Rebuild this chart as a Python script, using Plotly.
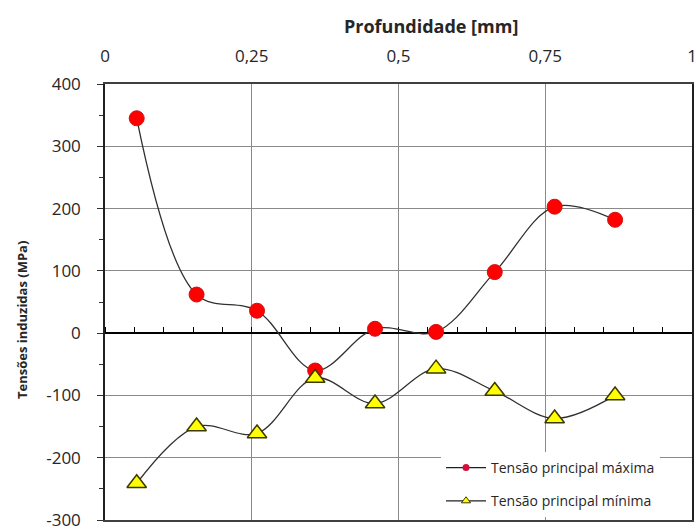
import plotly.graph_objects as go

# ---- data ----
depth_max = [0.054, 0.156, 0.259, 0.358, 0.460, 0.564, 0.664, 0.766, 0.869]
tensao_max = [345, 62, 36, -60, 7, 2, 98, 203, 182]

depth_min = [0.054, 0.156, 0.259, 0.358, 0.460, 0.564, 0.664, 0.766, 0.869]
tensao_min = [-241, -150, -161, -72, -113, -57, -93, -137, -100]

x_tickvals = [0, 0.25, 0.5, 0.75, 1]
x_ticktext = ["0", "0,25", "0,5", "0,75", "1"]
y_tickvals = [400, 300, 200, 100, 0, -100, -200, -300]
y_ticktext = ["400", "300", "200", "100", "0", "-100", "-200", "-300"]

name_max = "Tensão principal máxima"
name_min = "Tensão principal mínima"

FONT = "Open Sans"
TXT = "#262626"

fig = go.Figure()

# main series (curves + markers)
fig.add_trace(go.Scatter(
    x=depth_max, y=tensao_max, mode="lines+markers", name=name_max,
    line=dict(color="#303030", width=1.3, shape="spline", smoothing=1),
    marker=dict(symbol="circle", size=15, color="#FF0000",
                line=dict(color="#D01010", width=1)),
    showlegend=False,
))
fig.add_trace(go.Scatter(
    x=depth_min, y=tensao_min, mode="lines+markers", name=name_min,
    line=dict(color="#303030", width=1.3, shape="spline", smoothing=1),
    marker=dict(symbol="triangle-up", size=17, color="#FFFF00",
                line=dict(color="#3a3a00", width=1.5)),
    showlegend=False,
))

# legend entries (small symbols as in the original legend)
fig.add_trace(go.Scatter(
    x=[None], y=[None], mode="lines+markers", name=name_max, legendgroup="a",
    line=dict(color="#202020", width=1.3),
    marker=dict(symbol="circle", size=7, color="#D0103A",
                line=dict(color="#D0103A", width=0)),
))
fig.add_trace(go.Scatter(
    x=[None], y=[None], mode="lines+markers", name=name_min, legendgroup="b",
    line=dict(color="#202020", width=1.3),
    marker=dict(symbol="triangle-up", size=8, color="#FFFF00",
                line=dict(color="#3a3a00", width=1)),
))

# helper trace so the zero-line axis exists
fig.add_trace(go.Scatter(x=[], y=[], xaxis="x2", yaxis="y",
                         showlegend=False, hoverinfo="skip"))

W, H = 696, 530
ML, MR, MT, MB = 105, 4, 84, 10
PW, PH = W - ML - MR, H - MT - MB

fig.update_layout(
    width=W, height=H,
    margin=dict(l=ML, r=MR, t=MT, b=MB, autoexpand=False),
    paper_bgcolor="white", plot_bgcolor="white",
    font=dict(family=FONT, color=TXT),
    xaxis=dict(
        range=[0, 1], side="top", automargin=False,
        tickvals=x_tickvals, ticktext=x_ticktext,
        tickfont=dict(size=17, color=TXT),
        ticks="", ticklabelstandoff=13, ticklabeloverflow="allow",
        showgrid=True, gridcolor="#8a8a8a", gridwidth=1,
        showline=True, linecolor="#404040", linewidth=1.5, mirror=True,
        zeroline=False,
    ),
    xaxis2=dict(
        range=[0, 1], overlaying="x", anchor="free", position=3 / 7,
        side="top", layer="below traces", automargin=False,
        showline=True, linecolor="#000000", linewidth=1.5,
        ticks="outside", ticklen=5, tickwidth=1.2, tickcolor="#000000",
        tick0=0, dtick=0.05, showticklabels=False,
        showgrid=False, zeroline=False,
    ),
    yaxis=dict(
        range=[-300, 400], automargin=False,
        tickvals=y_tickvals, ticktext=y_ticktext,
        tickfont=dict(size=17, color=TXT),
        ticks="outside", ticklen=6, tickwidth=1.2, tickcolor="#303030",
        minor=dict(tickvals=[350, 250, 150, 50, -50, -150, -250],
                   ticks="outside", ticklen=4, tickwidth=1, tickcolor="#303030"),
        ticklabelstandoff=13, ticklabeloverflow="allow",
        showgrid=True, gridcolor="#8a8a8a", gridwidth=1,
        showline=True, linecolor="#202020", linewidth=1.5, mirror=True,
        zeroline=False,
    ),
    legend=dict(
        x=(441 - ML) / PW, y=(H - MB - 517) / PH, yanchor="bottom",
        bgcolor="white", borderwidth=0,
        font=dict(family=FONT, size=14, color=TXT),
        traceorder="grouped", tracegroupgap=12, itemwidth=40,
    ),
    annotations=[
        dict(text="<b>Profundidade [mm]</b>", xref="paper", yref="paper",
             x=(431 - ML) / PW, y=1 + (MT - 26) / PH,
             xanchor="center", yanchor="middle", showarrow=False,
             font=dict(family=FONT, size=18, color=TXT)),
        dict(text="<b>Tensões induzidas (MPa)</b>", xref="paper", yref="paper",
             x=(22 - ML) / PW, y=(H - MB - 320) / PH,
             xanchor="center", yanchor="middle", textangle=-90, showarrow=False,
             font=dict(family=FONT, size=13, color=TXT)),
    ],
)

fig.write_html("out.html")
